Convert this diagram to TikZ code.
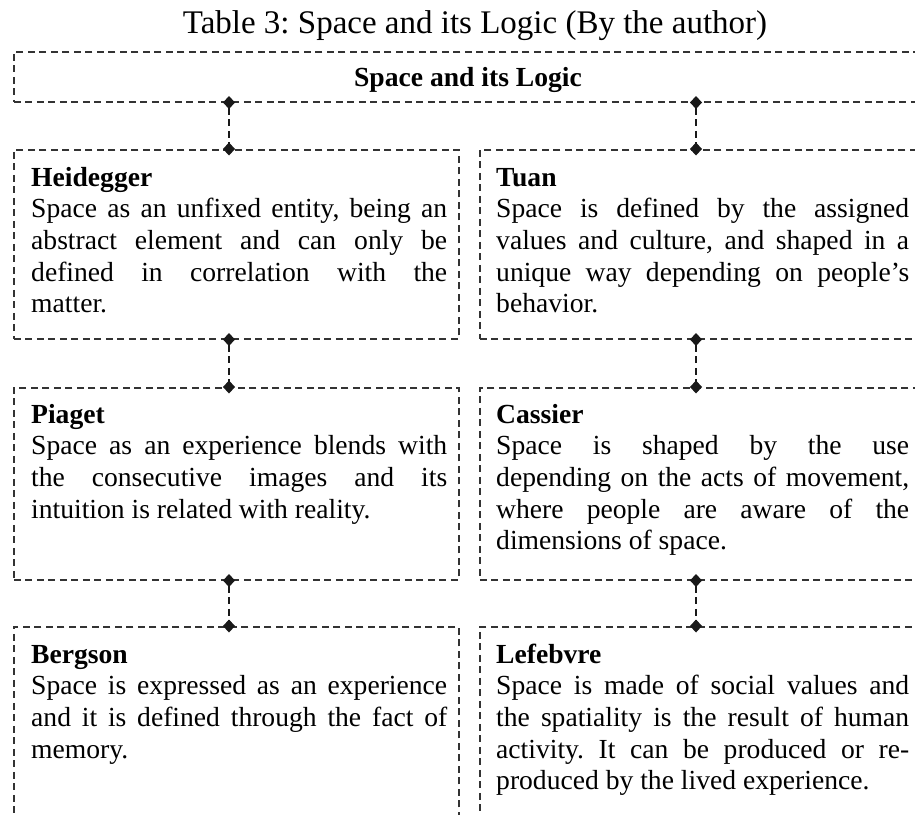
\documentclass[tikz,border=0pt]{standalone}
\usepackage{fontspec}
\setmainfont{Liberation Serif}
\usetikzlibrary{arrows.meta}
\frenchspacing
\begin{document}
\begin{tikzpicture}[x=1pt,y=1pt,
  frame/.style={draw=black!80, line width=1.5pt, dash pattern=on 7pt off 4.5pt,
    inner sep=0pt, anchor=north west},
  link/.style={draw=black!90, line width=1.4pt, dash pattern=on 7pt off 4.5pt,
    {Diamond[length=13pt,width=12pt]}-{Diamond[length=13pt,width=12pt]},
    shorten <=-6.5pt, shorten >=-6.5pt},
  body/.style={anchor=north west, inner sep=0pt, align=justify,
    font=\fontsize{27.6}{31.6}\selectfont},
  lefttext/.style={body, text width=416pt},
  righttext/.style={body, text width=413pt},
]
\useasboundingbox (0,0) rectangle (915,-814);
\clip (0,0) rectangle (915,-814);

% caption
\node[anchor=base, inner sep=0pt, font=\fontsize{33}{38}\selectfont] (cap) at (475,-33)
  {Table 3: Space and its Logic (By the author)};

% frames
\node[frame, minimum width=917pt, minimum height=50pt] (top) at (13,-51) {};
\node[frame, minimum width=445pt, minimum height=189pt] (heid) at (13,-149) {};
\node[frame, minimum width=446pt, minimum height=189pt] (tuan) at (479,-149) {};
\node[frame, minimum width=445pt, minimum height=192pt] (piag) at (13,-387) {};
\node[frame, minimum width=446pt, minimum height=192pt] (cass) at (479,-387) {};
\node[frame, minimum width=445pt, minimum height=230pt] (berg) at (13,-626) {};
\node[frame, minimum width=446pt, minimum height=230pt] (lefe) at (479,-626) {};

% heading of the top frame
\node[anchor=base, inner sep=0pt, font=\fontsize{27.6}{31.6}\selectfont\bfseries] (head)
  at (468,-86) {Space and its Logic};

% connector columns
\coordinate (cl) at (229,0);
\coordinate (cr) at (696,0);

\draw[link] (top.south -| cl) -- (heid.north -| cl);
\draw[link] (top.south -| cr) -- (tuan.north -| cr);
\draw[link] (heid.south -| cl) -- (piag.north -| cl);
\draw[link] (tuan.south -| cr) -- (cass.north -| cr);
\draw[link] (piag.south -| cl) -- (berg.north -| cl);
\draw[link] (cass.south -| cr) -- (lefe.north -| cr);

% texts
\node[lefttext] (theid) at (31,-163.9) {\strut\textbf{Heidegger}\\
  Space as an unfixed entity, being an\linebreak
  abstract element and can only be\linebreak
  defined in correlation with the\linebreak
  matter.};
\node[righttext] (ttuan) at (496,-163.9) {\strut\textbf{Tuan}\\
  Space is defined by the assigned\linebreak
  values and culture, and shaped in a\linebreak
  unique way depending on people’s\linebreak
  behavior.};
\node[lefttext] (tpiag) at (31,-401) {\strut\textbf{Piaget}\\
  Space as an experience blends with\linebreak
  the consecutive images and its\linebreak
  intuition is related with reality.};
\node[righttext] (tcass) at (496,-401) {\strut\textbf{Cassier}\\
  Space is shaped by the use\linebreak
  depending on the acts of movement,\linebreak
  where people are aware of the\linebreak
  dimensions of space.};
\node[lefttext] (tberg) at (31,-641) {\strut\textbf{Bergson}\\
  Space is expressed as an experience\linebreak
  and it is defined through the fact of\linebreak
  memory.};
\node[righttext] (tlefe) at (496,-641) {\strut\textbf{Lefebvre}\\
  Space is made of social values and\linebreak
  the spatiality is the result of human\linebreak
  activity. It can be produced or re-\linebreak
  produced by the lived experience.};
\end{tikzpicture}
\end{document}
